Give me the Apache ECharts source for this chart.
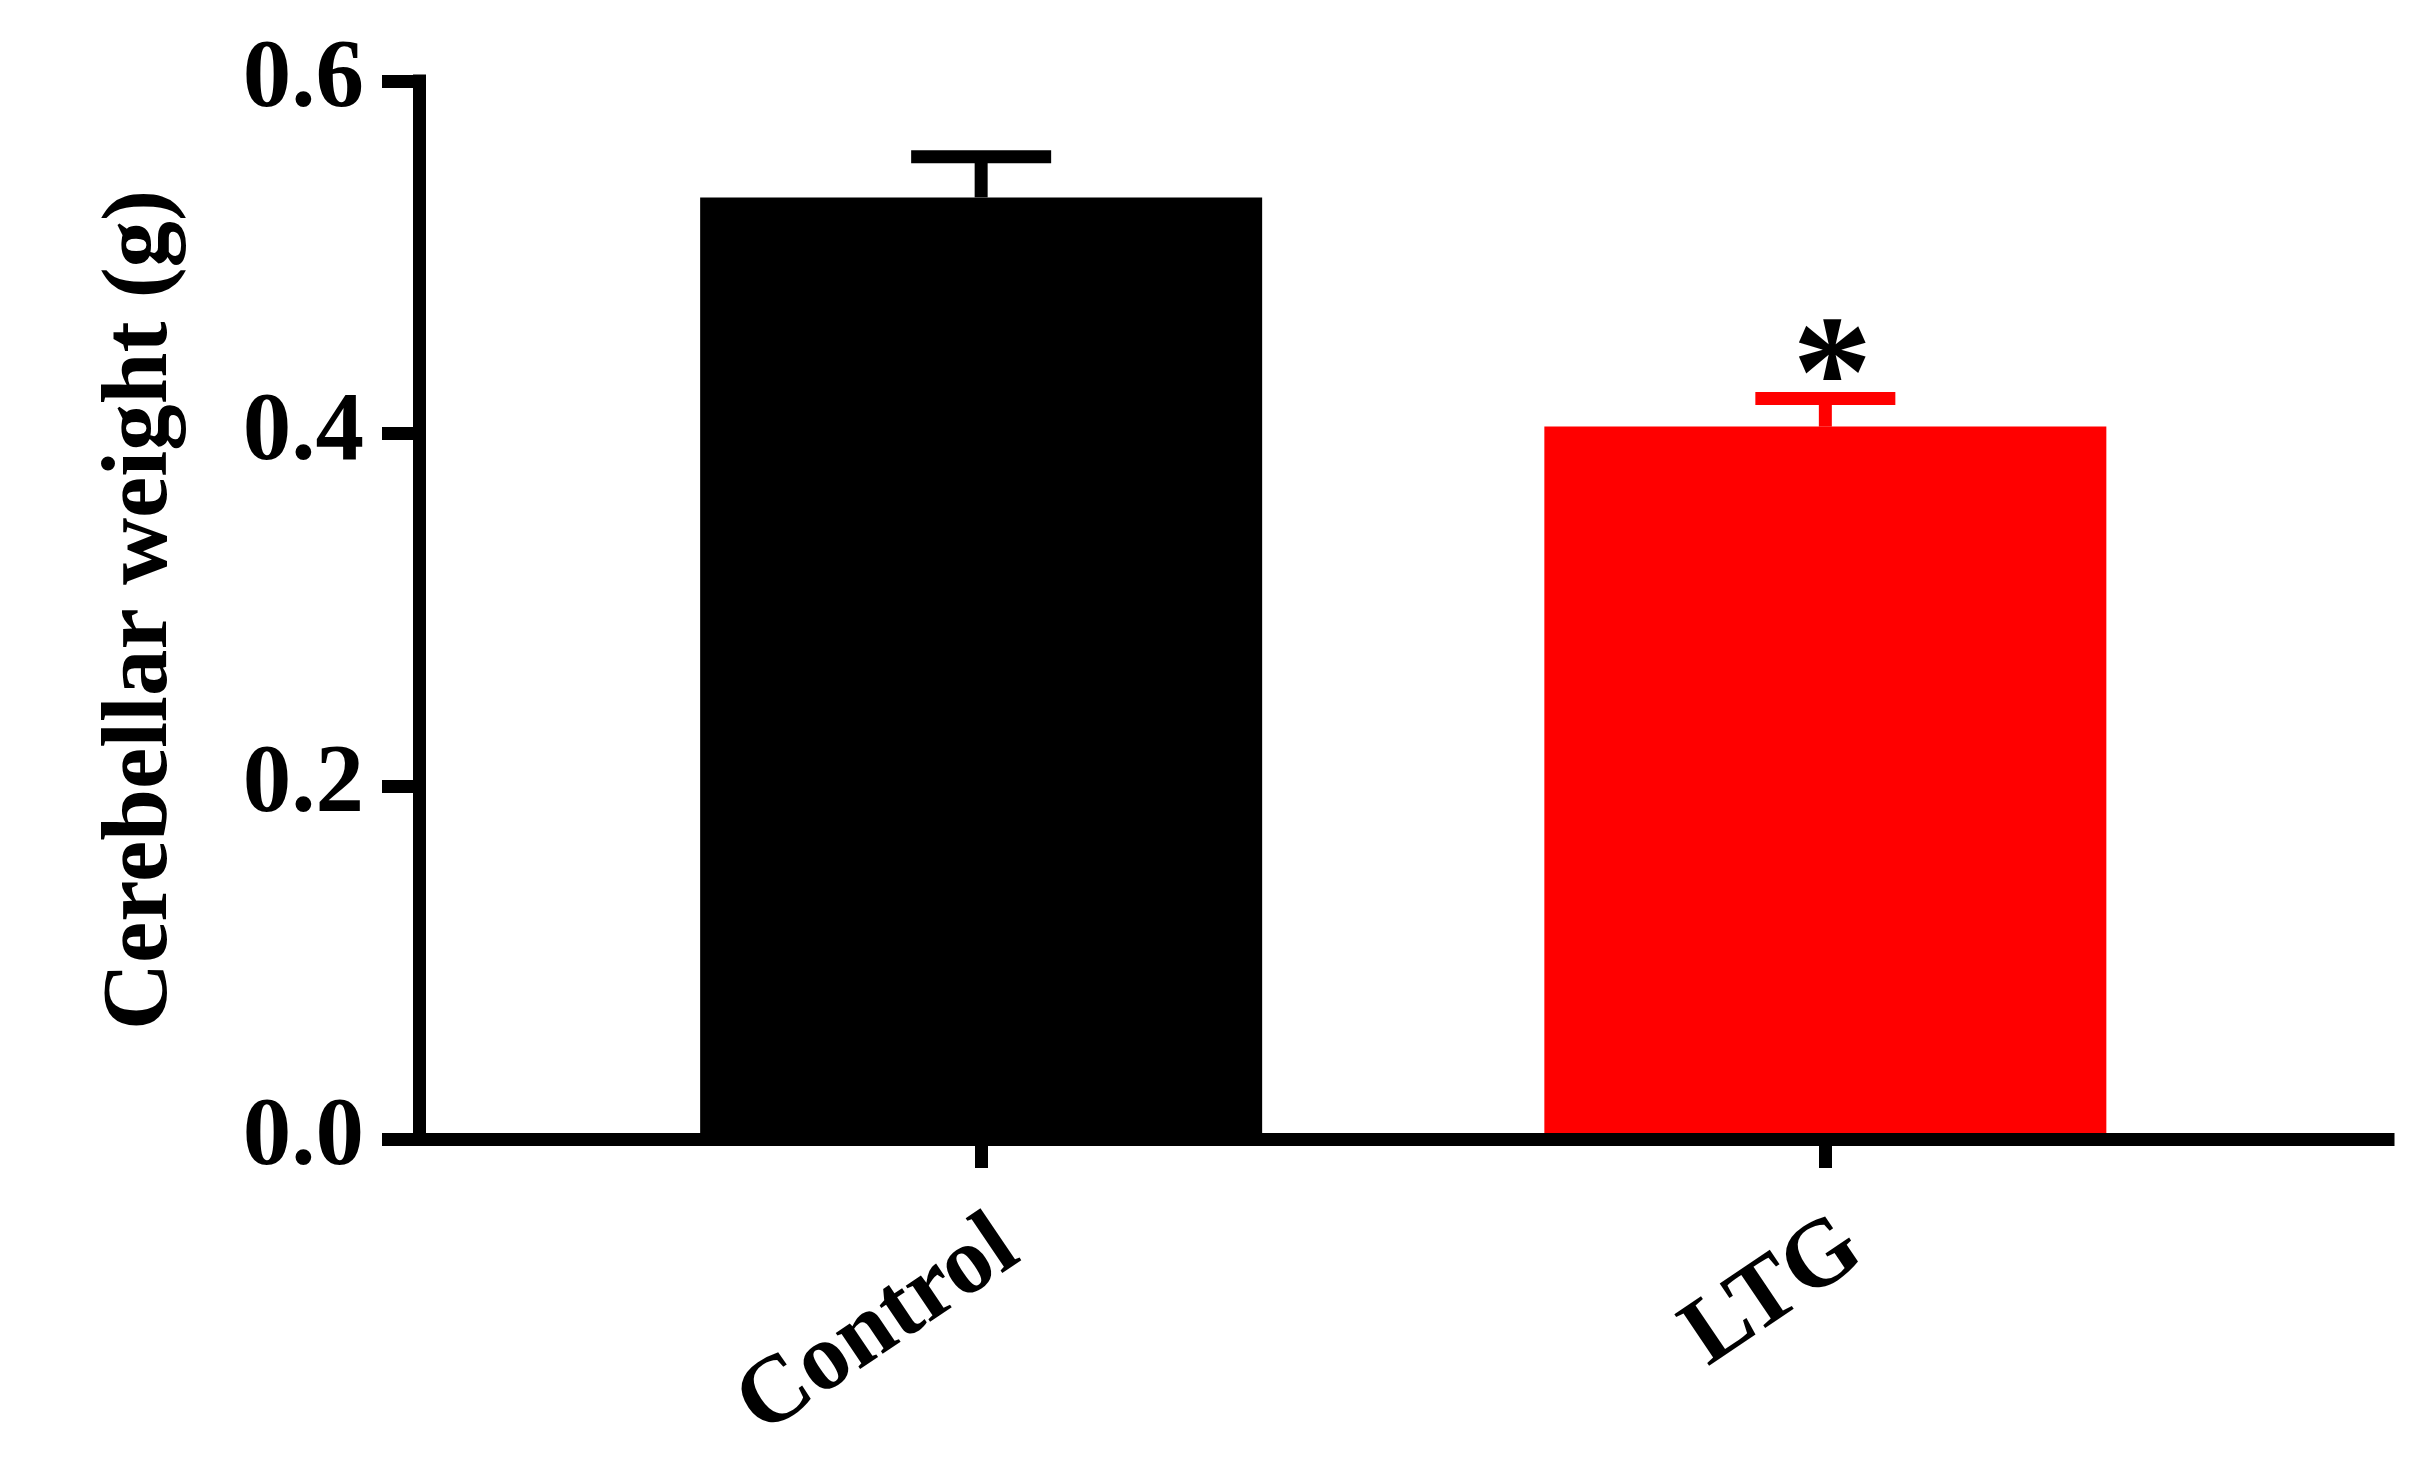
<!DOCTYPE html>
<html>
<head>
<meta charset="utf-8">
<script src="https://cdn.jsdelivr.net/npm/echarts@6/dist/echarts.min.js"></script>
<style>
html,body{margin:0;padding:0;background:#fff;}
#chart{width:2424px;height:1460px;}
</style>
</head>
<body>
<div id="chart"></div>
<script>
// ---- data ----
var categories = ['Control', 'LTG'];
var means = [0.534, 0.404];
var sems = [0.023, 0.016];
var significance = ['', '*'];
var barColors = ['#000000', '#ff0000'];
var yTickLabels = ['0.0', '0.2', '0.4', '0.6'];
var yTitle = 'Cerebellar weight (g)';

var FONT = '"Liberation Serif", "Times New Roman", serif';

var barData = categories.map(function (c, i) {
  return { value: [i, means[i]], itemStyle: { color: barColors[i] } };
});
var errData = categories.map(function (c, i) { return [i, means[i], sems[i]]; });
var tickValues = categories.map(function (c, i) { return i; });
var labelValues = categories.map(function (c, i) { return i + 0.033; });

var chart = echarts.init(document.getElementById('chart'), null, { renderer: 'canvas' });

chart.setOption({
  backgroundColor: '#ffffff',
  animation: false,
  grid: { left: 419, right: 36, top: 81, bottom: 321, containLabel: false },
  xAxis: {
    type: 'value',
    min: -0.6659,
    max: 1.6665,
    z: 5,
    splitLine: { show: false },
    axisLine: { show: true, onZero: false, lineStyle: { color: '#000', width: 13, cap: 'square' } },
    axisTick: { show: true, length: 29, customValues: tickValues, lineStyle: { color: '#000', width: 13 } },
    axisLabel: {
      show: true,
      customValues: labelValues,
      rotate: 34,
      margin: 100,
      color: '#000',
      fontFamily: FONT,
      fontWeight: 'bold',
      fontSize: 95,
      formatter: function (v) { return categories[Math.round(v)]; }
    }
  },
  yAxis: {
    type: 'value',
    min: 0,
    max: 0.6,
    interval: 0.2,
    z: 5,
    splitLine: { show: false },
    axisLine: { show: true, onZero: false, lineStyle: { color: '#000', width: 13, cap: 'square' } },
    axisTick: { show: true, length: 37, lineStyle: { color: '#000', width: 13 } },
    axisLabel: {
      margin: 55,
      color: '#000',
      fontFamily: FONT,
      fontWeight: 'bold',
      fontSize: 97,
      formatter: function (v, i) { return yTickLabels[i]; }
    },
    name: yTitle,
    nameLocation: 'middle',
    nameGap: 231,
    nameTextStyle: { color: '#000', fontFamily: FONT, fontWeight: 'bold', fontSize: 93 }
  },
  series: [
    {
      type: 'bar',
      barWidth: 562,
      data: barData
    },
    {
      type: 'custom',
      data: errData,
      encode: { x: 0, y: 1 },
      z: 3,
      renderItem: function (params, api) {
        var i = params.dataIndex;
        var x = api.value(0), m = api.value(1), s = api.value(2);
        var base = api.coord([x, m]);
        var top = api.coord([x, m + s]);
        var col = barColors[i];
        var children = [
          { type: 'line', shape: { x1: base[0], y1: base[1], x2: top[0], y2: top[1] },
            style: { stroke: col, lineWidth: 13 } },
          { type: 'line', shape: { x1: top[0] - 70, y1: top[1], x2: top[0] + 70, y2: top[1] },
            style: { stroke: col, lineWidth: 13 } }
        ];
        if (significance[i]) {
          children.push({
            type: 'text',
            x: top[0] + 7,
            y: top[1] + 66,
            style: {
              text: significance[i],
              fill: '#000',
              font: 'bold 160px ' + FONT,
              align: 'center',
              verticalAlign: 'bottom'
            }
          });
        }
        return { type: 'group', children: children };
      }
    }
  ]
});
</script>
</body>
</html>
